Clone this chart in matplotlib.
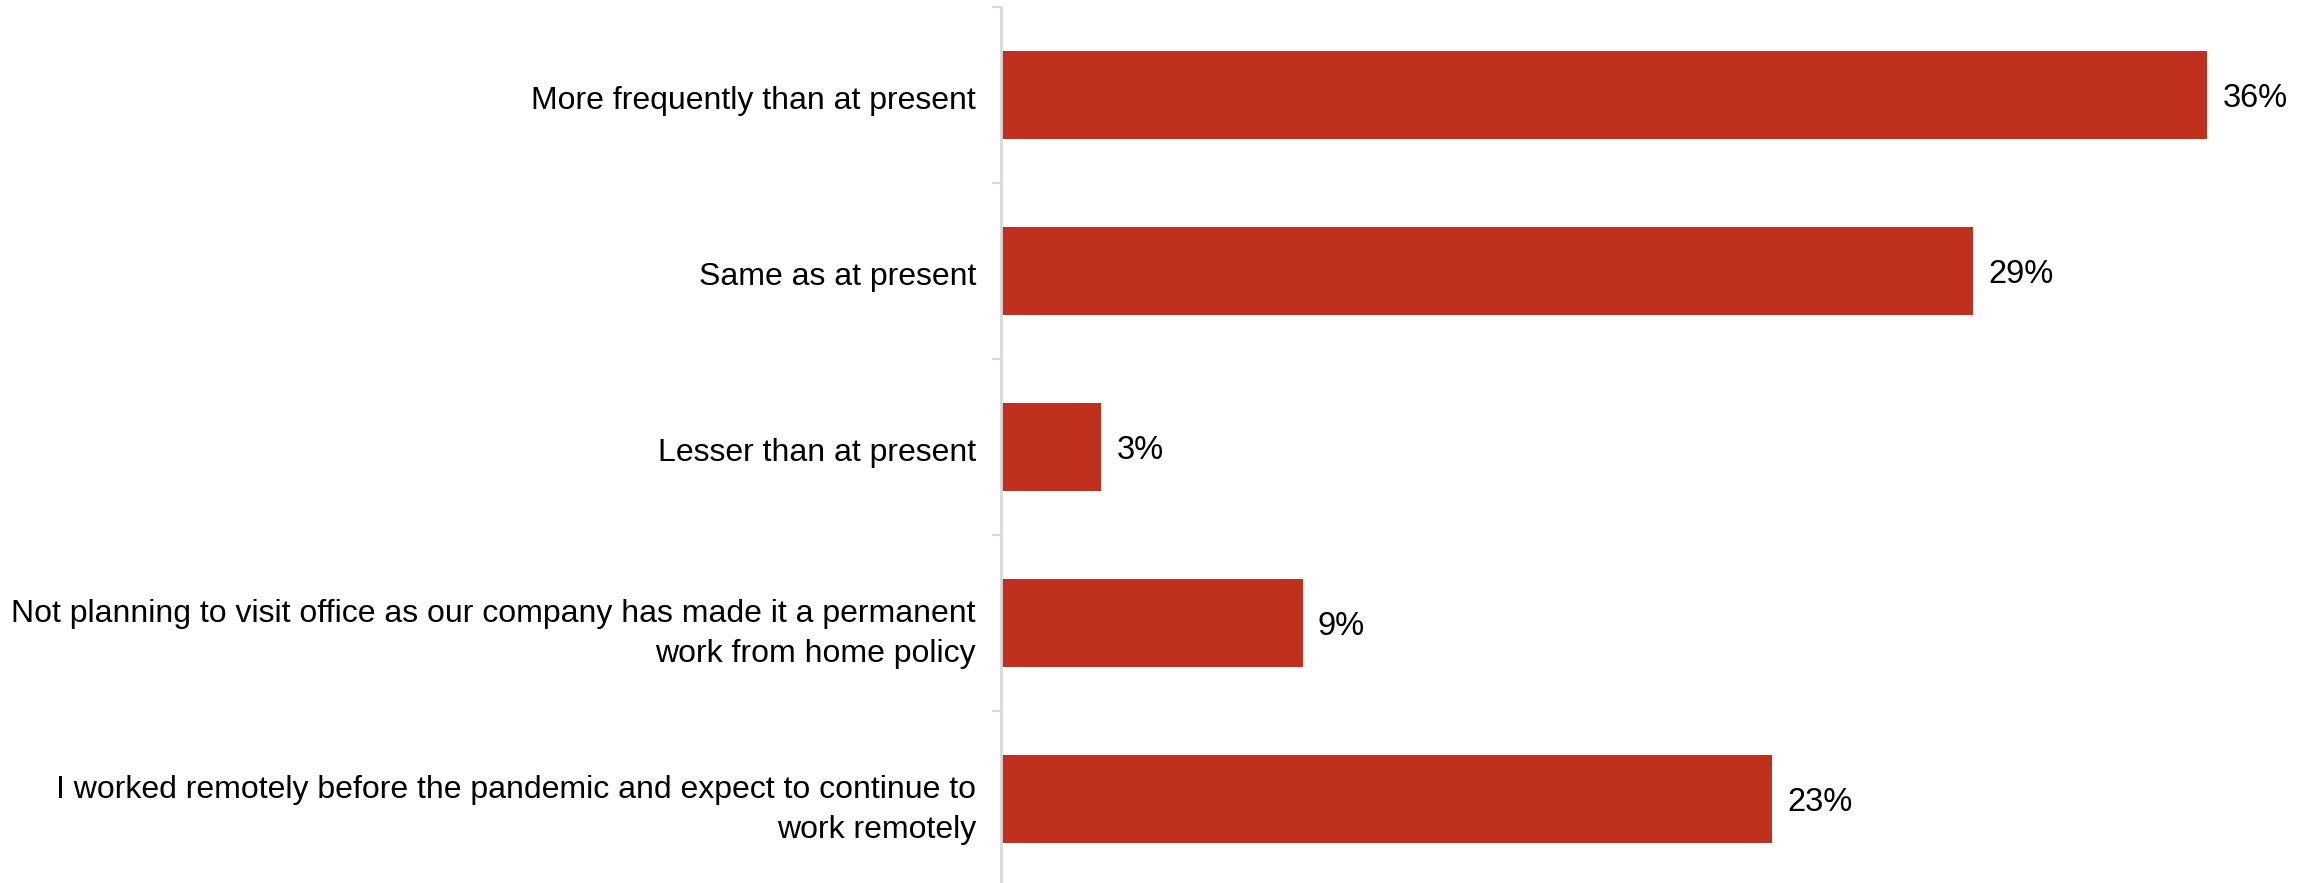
import matplotlib.pyplot as plt
import matplotlib.transforms as mtransforms
import numpy as np

plt.rcParams['font.family'] = ['Liberation Sans', 'DejaVu Sans']

categories = [
    'More frequently than at present',
    'Same as at present',
    'Lesser than at present',
    'Not planning to visit office as our company has made it a permanent\nwork from home policy',
    'I worked remotely before the pandemic and expect to continue to\nwork remotely',
]
shares = [36, 29, 3, 9, 23]
value_labels = ['36%', '29%', '3%', '9%', '23%']

BAR_COLOR = '#BF311C'
AXIS_COLOR = '#D9D9D9'

fig = plt.figure(figsize=(23.18, 8.83), dpi=100)
ax = fig.add_axes([0.4318, -0.0045, 0.5682, 0.99657])

y = np.arange(len(categories))
bars = ax.barh(y, shares, height=0.5, color=BAR_COLOR)
texts = ax.bar_label(bars, labels=value_labels, padding=11, fontsize=23.5, color='black')
for t in texts:
    t.set_va('center_baseline')

ax.set_xlim(0, 39.3)
ax.set_ylim(len(categories) - 0.5, -0.5)

ax.set_yticks(y)
ax.set_yticklabels(categories, fontsize=23, ha='right', linespacing=1.4)
ax.tick_params(axis='y', which='major', length=0, pad=18)
# nudge the category labels slightly downward
shift = mtransforms.ScaledTranslation(0, -3 / 100, fig.dpi_scale_trans)
for lbl in ax.get_yticklabels():
    lbl.set_transform(lbl.get_transform() + shift)
ax.set_yticks(np.arange(len(categories) + 1) - 0.5, minor=True)
ax.tick_params(axis='y', which='minor', length=6.5, width=1.5, color=AXIS_COLOR)
ax.set_xticks([])

for side in ['top', 'right', 'bottom']:
    ax.spines[side].set_visible(False)
ax.spines['left'].set_color(AXIS_COLOR)
ax.spines['left'].set_linewidth(2)

fig.savefig('out.png', dpi=100, facecolor='white')
